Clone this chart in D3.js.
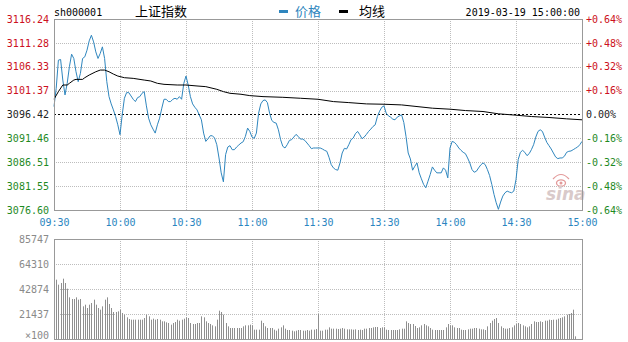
<!DOCTYPE html>
<html><head><meta charset="utf-8">
<script src="https://cdn.jsdelivr.net/npm/d3@7"></script>
<style>body{margin:0;background:#fff}svg{display:block}</style>
</head><body><svg id="c" width="628" height="342"></svg>
<script>
const stockCode = "sh000001";
const stockName = "上证指数";
const legendNames = ["价格", "均线"];
const dateLabel = "2019-03-19 15:00:00";
const prevClose = 3096.42;
const timeLabels = ["09:30","10:00","10:30","11:00","11:30","13:30","14:00","14:30","15:00"];
const timeTickMinutes = [0,30,60,90,120,150,180,210,240];
const priceTicks = [3116.24,3111.28,3106.33,3101.37,3096.42,3091.46,3086.51,3081.55,3076.60];
const pctTicks = ["+0.64%","+0.48%","+0.32%","+0.16%","0.00%","-0.16%","-0.32%","-0.48%","-0.64%"];
const volTicks = [85747,64310,42874,21437,0];
const volTickLabels = ["85747","64310","42874","21437","×100"];

// minute-by-minute index price (minute 0 = 09:30, 120 = 11:30/13:00, 240 = 15:00)
const price = [
3098.07,3101.85,3107.70,3107.84,3103.57,3100.48,3102.89,3106.33,3108.94,3108.05,
3105.29,3103.23,3104.95,3108.05,3108.39,3109.77,3111.70,3112.87,3111.49,3109.42,
3108.05,3109.08,3110.46,3108.05,3103.23,3100.13,3098.62,3097.38,3096.00,3094.28,
3092.22,3096.35,3099.79,3100.96,3100.96,3100.27,3099.58,3099.10,3099.93,3100.13,
3100.82,3101.17,3098.21,3095.66,3094.28,3093.39,3092.56,3094.28,3095.66,3097.73,
3099.58,3099.58,3099.10,3099.10,3099.58,3099.79,3099.58,3100.13,3099.58,3102.89,
3104.40,3102.54,3100.13,3098.62,3097.93,3097.38,3096.35,3095.32,3092.56,3090.84,
3091.39,3092.01,3092.01,3091.53,3090.15,3087.40,3084.31,3082.45,3088.09,3089.67,
3089.95,3089.12,3089.12,3089.67,3090.09,3090.50,3090.77,3091.88,3093.60,3092.91,
3091.74,3091.46,3092.56,3096.69,3098.62,3099.31,3099.45,3098.89,3096.69,3095.18,
3094.77,3094.63,3093.25,3091.19,3089.81,3089.47,3090.15,3091.05,3091.19,3091.74,
3092.29,3091.88,3091.32,3091.32,3091.05,3090.50,3089.95,3089.33,3089.47,3089.47,
3089.47,3089.47,3089.26,3088.98,3088.78,3087.54,3086.03,3085.34,3084.99,3084.86,
3086.37,3088.43,3089.40,3089.26,3090.15,3091.19,3091.53,3092.43,3092.91,3092.22,
3091.39,3091.74,3092.29,3092.91,3093.39,3093.94,3094.28,3096.00,3097.11,3097.93,
3098.21,3096.69,3096.14,3095.87,3095.45,3095.32,3095.87,3096.14,3096.35,3094.77,
3091.88,3088.43,3087.20,3084.86,3085.68,3086.37,3084.31,3083.07,3081.90,3081.21,
3082.58,3083.96,3085.54,3084.86,3084.31,3084.31,3084.31,3085.34,3084.86,3083.27,
3089.47,3090.84,3090.64,3090.15,3089.47,3088.98,3088.57,3088.30,3087.40,3086.37,
3084.99,3084.44,3084.65,3085.34,3085.96,3086.37,3086.03,3084.99,3083.75,3081.90,
3079.83,3078.11,3076.74,3078.25,3079.49,3080.18,3080.52,3080.31,3080.18,3080.52,
3082.93,3087.06,3088.57,3088.98,3088.57,3087.88,3088.30,3089.12,3090.15,3091.74,
3092.91,3093.25,3092.91,3091.74,3090.64,3089.95,3089.26,3088.43,3087.61,3087.26,
3087.40,3087.40,3087.75,3088.57,3088.78,3088.85,3089.12,3089.40,3089.67,3090.15,
3090.84];

// average price line read at these minutes
const avgMinutes = [0,2,4,6,7,9,10,13,14,16,19,21,23,25,27,29,32,36,41,44,47,50,56,60,65,69,74,77,80,85,89,95,104,112,120,127,134,142,150,158,165,172,180,187,195,202,210,217,225,233,240];
const avgPrice = [3099.60,3101.17,3102.54,3102.54,3102.89,3103.57,3103.71,3103.71,3104.06,3104.61,3105.29,3105.64,3105.64,3105.29,3104.81,3104.40,3104.06,3103.92,3103.57,3103.37,3102.89,3102.68,3102.54,3102.54,3102.34,3102.20,3101.65,3101.17,3100.82,3100.62,3100.34,3100.13,3099.99,3099.79,3099.58,3099.10,3098.89,3098.62,3098.55,3098.41,3098.07,3097.73,3097.52,3097.24,3097.04,3096.56,3096.28,3096.00,3095.80,3095.52,3095.32];

// minute volume (x100 shares)
const volume = [
50880,50880,46590,48020,51730,48020,43160,35730,34300,34300,
35730,33730,34300,28010,29440,26580,29440,30870,33730,29440,
26580,25150,28010,33730,35730,30010,26580,23150,23150,23720,
25150,22290,20870,18580,17150,16580,16580,16580,16580,16580,
16580,18010,20870,19440,16580,17440,16580,17150,16580,15150,
15150,14290,13720,12290,13720,14580,16580,15720,16580,17440,
18580,18010,13720,12860,12860,13720,13720,19440,18580,15150,
13720,12860,11720,10860,16580,24300,23150,20870,13720,10860,
9430,9430,9430,9430,9430,9430,10860,11720,11720,12290,
11720,8000,8000,8000,15720,13720,10860,9430,9430,9430,
8000,7150,8860,10000,11720,8860,7720,7720,7150,6570,
7150,7720,7720,7150,7150,7720,7150,8000,8000,8580,
21440,7150,7150,8000,8000,10000,8860,8860,8860,8580,
8860,9430,8860,8290,8290,8290,8000,8290,7720,8000,
7720,8860,8860,9430,9430,10000,10290,10290,9430,10000,
10000,8000,7720,7720,7720,7720,7720,8290,8860,8860,
15150,13720,12860,12860,11150,9430,10000,11720,12860,11720,
10860,9430,8000,7720,7720,7720,7720,7720,10000,12860,
11720,11720,10000,9430,9430,8000,7720,7720,8290,8860,
8860,9430,9430,8860,8290,8290,7720,10860,13720,15720,
17150,18010,13720,10860,9430,8860,8860,9430,10000,11720,
12860,13720,12860,11720,10860,10000,10860,12860,15150,14580,
14580,15150,14580,15720,15720,16580,16290,16580,16580,17440,
18010,18580,19440,20870,21440,22290,25150,2290,0,0,
0];

const FONT = "'DejaVu Sans Mono', monospace";
const L = 54, R = 582, PT = 19, PB = 210, VT = 239, VB = 339;
const svg = d3.select("#c");

const x = d3.scaleLinear().domain([0, 240]).range([L, R]);
const y = d3.scaleLinear().domain([priceTicks[8], priceTicks[0]]).range([PB, PT]);
const yV = d3.scaleLinear().domain([0, volTicks[0]]).range([VB, VT]);

const gridColor = "#bdbdbd";
// price grid
const pg = svg.append("g");
pg.selectAll("line.h").data(priceTicks.slice(1, 8).filter(d => d !== prevClose)).join("line")
  .attr("x1", L).attr("x2", R).attr("y1", d => Math.round(y(d)) + 0.5).attr("y2", d => Math.round(y(d)) + 0.5)
  .attr("stroke", gridColor).attr("stroke-dasharray", "1,1");
pg.selectAll("line.v").data(timeTickMinutes.slice(1, 8)).join("line")
  .attr("x1", d => Math.round(x(d)) + 0.5).attr("x2", d => Math.round(x(d)) + 0.5).attr("y1", PT).attr("y2", PB)
  .attr("stroke", gridColor).attr("stroke-dasharray", "1,1");
pg.append("line").attr("x1", L).attr("x2", R)
  .attr("y1", Math.round(y(prevClose)) + 0.5).attr("y2", Math.round(y(prevClose)) + 0.5)
  .attr("stroke", "#000").attr("stroke-dasharray", "2,2");

// volume grid
const vg = svg.append("g");
vg.selectAll("line.h").data(volTicks.slice(1, 4)).join("line")
  .attr("x1", L).attr("x2", R).attr("y1", d => Math.round(yV(d)) + 0.5).attr("y2", d => Math.round(yV(d)) + 0.5)
  .attr("stroke", gridColor).attr("stroke-dasharray", "1,1");
vg.selectAll("line.v").data(timeTickMinutes.slice(1, 8)).join("line")
  .attr("x1", d => Math.round(x(d)) + 0.5).attr("x2", d => Math.round(x(d)) + 0.5).attr("y1", VT).attr("y2", VB)
  .attr("stroke", gridColor).attr("stroke-dasharray", "1,1");

// volume bars
svg.append("g").selectAll("rect").data(volume).join("rect")
  .attr("x", (d, i) => Math.round(x(i)))
  .attr("width", 1)
  .attr("y", d => yV(d))
  .attr("height", d => VB - yV(d))
  .attr("fill", "#8f8f8f");

// sina watermark
const wm = svg.append("g");
wm.append("ellipse").attr("cx", 561).attr("cy", 183).attr("rx", 4.5).attr("ry", 3.2)
  .attr("fill", "none").attr("stroke", "#e39a9a").attr("stroke-width", 1.3);
wm.append("circle").attr("cx", 561).attr("cy", 183).attr("r", 1.5).attr("fill", "#e39a9a");
wm.append("path").attr("d", "M553,179 Q561,170 569,179").attr("fill", "none").attr("stroke", "#e39a9a").attr("stroke-width", 1.2);
wm.append("text").attr("x", 546).attr("y", 200).text("sina")
  .attr("font-family", "'DejaVu Sans', sans-serif").attr("font-style", "italic").attr("font-weight", "bold")
  .attr("font-size", 17).attr("fill", "#d9caca");

// lines
const line = d3.line().x((d, i) => x(i)).y(d => y(d));
svg.append("path").datum(price).attr("d", line).attr("fill", "none").attr("stroke", "#2f86be").attr("stroke-width", 1);
const avgLine = d3.line().x(d => x(d[0])).y(d => y(d[1]));
svg.append("path").datum(avgMinutes.map((m, i) => [m, avgPrice[i]])).attr("d", avgLine)
  .attr("fill", "none").attr("stroke", "#000").attr("stroke-width", 1);

// frames
svg.append("rect").attr("x", L + 0.5).attr("y", PT + 0.5).attr("width", R - L).attr("height", PB - PT)
  .attr("fill", "none").attr("stroke", "#999");
svg.append("rect").attr("x", L + 0.5).attr("y", VT + 0.5).attr("width", R - L).attr("height", VB - VT)
  .attr("fill", "none").attr("stroke", "#999");

function styleAxis(g) {
  g.select(".domain").remove();
  g.selectAll(".tick line").remove();
  g.selectAll("text").attr("font-family", FONT).attr("font-size", 10);
}
const colorFor = d => d > prevClose ? "#cc1020" : (d < prevClose ? "#1f8a1f" : "#222");

// left price axis
svg.append("g").attr("transform", `translate(${L},0)`)
  .call(d3.axisLeft(y).tickValues(priceTicks).tickFormat(d3.format(".2f")).tickSize(0).tickPadding(5))
  .call(styleAxis)
  .selectAll("text").attr("fill", d => colorFor(d));

// right pct axis
svg.append("g").attr("transform", `translate(${R},0)`)
  .call(d3.axisRight(y).tickValues(priceTicks).tickFormat((d, i) => pctTicks[i]).tickSize(0).tickPadding(4))
  .call(styleAxis)
  .selectAll("text").attr("fill", d => colorFor(d));

// time axis
svg.append("g").attr("transform", `translate(0,${PB})`)
  .call(d3.axisBottom(x).tickValues(timeTickMinutes).tickFormat((d, i) => timeLabels[i]).tickSize(0).tickPadding(9))
  .call(styleAxis)
  .selectAll("text").attr("fill", "#2a85c0");

// volume axis
const va = svg.append("g").attr("transform", `translate(${L},0)`)
  .call(d3.axisLeft(yV).tickValues(volTicks).tickFormat((d, i) => volTickLabels[i]).tickSize(0).tickPadding(5))
  .call(styleAxis);
va.selectAll("text").attr("fill", "#8a8a8a");
va.selectAll(".tick").filter(d => d === 0).select("text").attr("dy", "-0.05em");

// header
svg.append("text").attr("x", 54).attr("y", 16).text(stockCode)
  .attr("font-family", FONT).attr("font-size", 10).attr("fill", "#000");
svg.append("text").attr("x", 135).attr("y", 16).text(stockName)
  .attr("font-family", "'Noto Sans CJK SC', sans-serif").attr("font-size", 13).attr("fill", "#000");
svg.append("rect").attr("x", 279).attr("y", 10).attr("width", 9).attr("height", 3).attr("fill", "#2f86be");
svg.append("text").attr("x", 295).attr("y", 16).text(legendNames[0])
  .attr("font-family", "'Noto Sans CJK SC', sans-serif").attr("font-size", 13).attr("fill", "#2f86be");
svg.append("rect").attr("x", 339).attr("y", 10).attr("width", 9).attr("height", 3).attr("fill", "#000");
svg.append("text").attr("x", 359).attr("y", 16).text(legendNames[1])
  .attr("font-family", "'Noto Sans CJK SC', sans-serif").attr("font-size", 13).attr("fill", "#000");
svg.append("text").attr("x", 580).attr("y", 15.5).attr("text-anchor", "end").text(dateLabel)
  .attr("font-family", FONT).attr("font-size", 10).attr("fill", "#000");
</script></body></html>
